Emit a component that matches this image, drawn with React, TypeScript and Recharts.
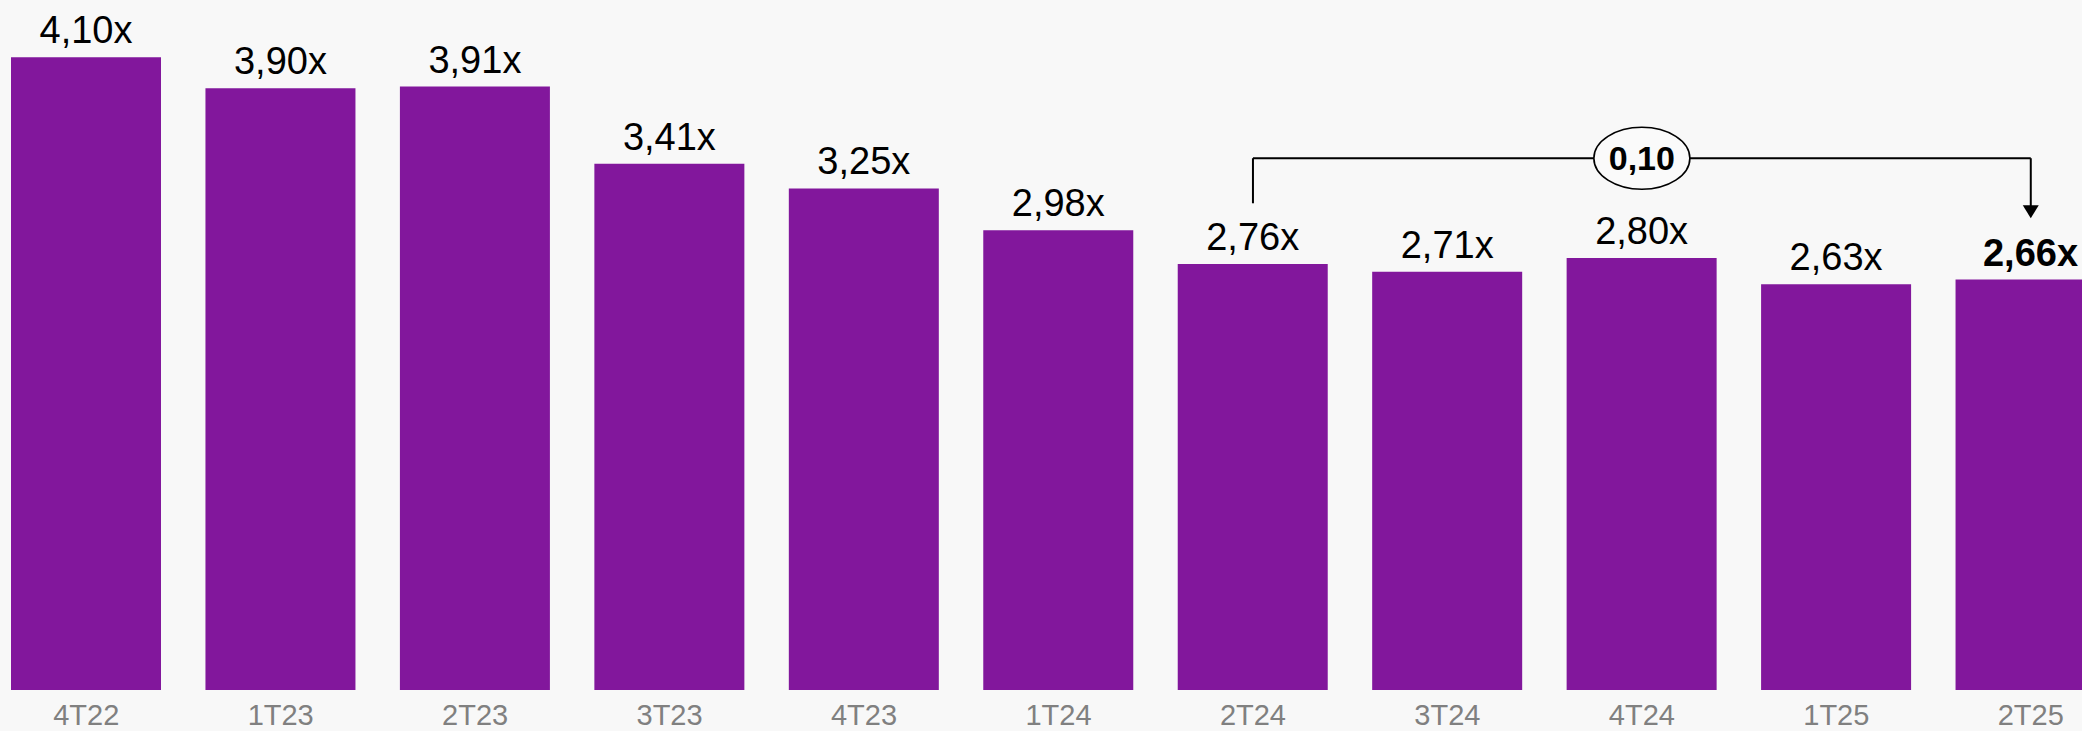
import { Bar, BarChart, LabelList, ReferenceDot, ReferenceLine, XAxis, YAxis } from "recharts"

const quarters = ["4T22", "1T23", "2T23", "3T23", "4T23", "1T24", "2T24", "3T24", "4T24", "1T25", "2T25"]
const leverage = [4.1, 3.9, 3.91, 3.41, 3.25, 2.98, 2.76, 2.71, 2.8, 2.63, 2.66]

// bracket annotation, 2T24 -> 2T25
const bracketFrom = "2T24"
const bracketTo = "2T25"
const bracketMid = "4T24"
const bracketLabel = "0,10"
const bracketTop = 3.446
const bracketFromBottom = 3.154
const arrowBase = 3.135
const arrowTip = 3.057

const data = quarters.map((q, i) => ({ q, v: leverage[i] }))

const PURPLE = "#82179c"
const FONT = "'Liberation Sans', Arial, sans-serif"

const fmt = (v: number) => v.toFixed(2).replace(".", ",") + "x"

function ValueLabel(props: any) {
  const { x, y, width, value, index } = props
  const last = index === leverage.length - 1
  return (
    <text
      x={x + width / 2}
      y={y - 14}
      textAnchor="middle"
      fontSize={38}
      fontFamily={FONT}
      fontWeight={last ? 700 : 400}
      fill="#000"
    >
      {fmt(Number(value))}
    </text>
  )
}

function QuarterTick(props: any) {
  const { x, payload } = props
  // plot bottom sits at 690
  return (
    <text x={x} y={725} textAnchor="middle" fontSize={29} fontFamily={FONT} fill="#808080">
      {payload.value}
    </text>
  )
}

function ArrowHead(props: any) {
  const { cx, cy } = props
  if (cx == null || cy == null) return null
  return <polygon points={`${cx - 8},${cy - 13} ${cx + 8},${cy - 13} ${cx},${cy}`} fill="#000" />
}

function Bubble(props: any) {
  const { cx, cy } = props
  if (cx == null || cy == null) return null
  return (
    <g>
      <ellipse cx={cx} cy={cy} rx={48} ry={31} fill="#fafafa" stroke="#000" strokeWidth={1.6} />
      <text
        x={cx}
        y={cy + 12}
        textAnchor="middle"
        fontSize={34}
        fontWeight={700}
        fontFamily={FONT}
        fill="#000"
      >
        {bracketLabel}
      </text>
    </g>
  )
}

export default function App() {
  return (
    <div
      style={{
        position: "absolute",
        left: 0,
        top: 0,
        width: 2082,
        height: 731,
        overflow: "hidden",
        background: "#f8f8f8",
      }}
    >
      <BarChart
        width={2139}
        height={731}
        data={data}
        margin={{ top: 11, right: 0, left: 0, bottom: 0 }}
        style={{ position: "absolute", left: -11, top: 0 }}
      >
        <XAxis
          dataKey="q"
          axisLine={false}
          tickLine={false}
          tickSize={0}
          tickMargin={0}
          height={41}
          interval={0}
          tick={<QuarterTick />}
        />
        <YAxis hide domain={[0, 4.4]} />
        <Bar dataKey="v" fill={PURPLE} barSize={150} isAnimationActive={false}>
          <LabelList dataKey="v" content={<ValueLabel />} />
        </Bar>
        <ReferenceLine
          segment={[
            { x: bracketFrom, y: bracketFromBottom },
            { x: bracketFrom, y: bracketTop },
          ]}
          stroke="#000"
          strokeWidth={2}
        />
        <ReferenceLine
          segment={[
            { x: bracketFrom, y: bracketTop },
            { x: bracketTo, y: bracketTop },
          ]}
          stroke="#000"
          strokeWidth={2}
        />
        <ReferenceLine
          segment={[
            { x: bracketTo, y: bracketTop },
            { x: bracketTo, y: arrowBase },
          ]}
          stroke="#000"
          strokeWidth={2}
        />
        <ReferenceDot x={bracketTo} y={arrowTip} shape={<ArrowHead />} />
        <ReferenceDot x={bracketMid} y={bracketTop} shape={<Bubble />} />
      </BarChart>
    </div>
  )
}
